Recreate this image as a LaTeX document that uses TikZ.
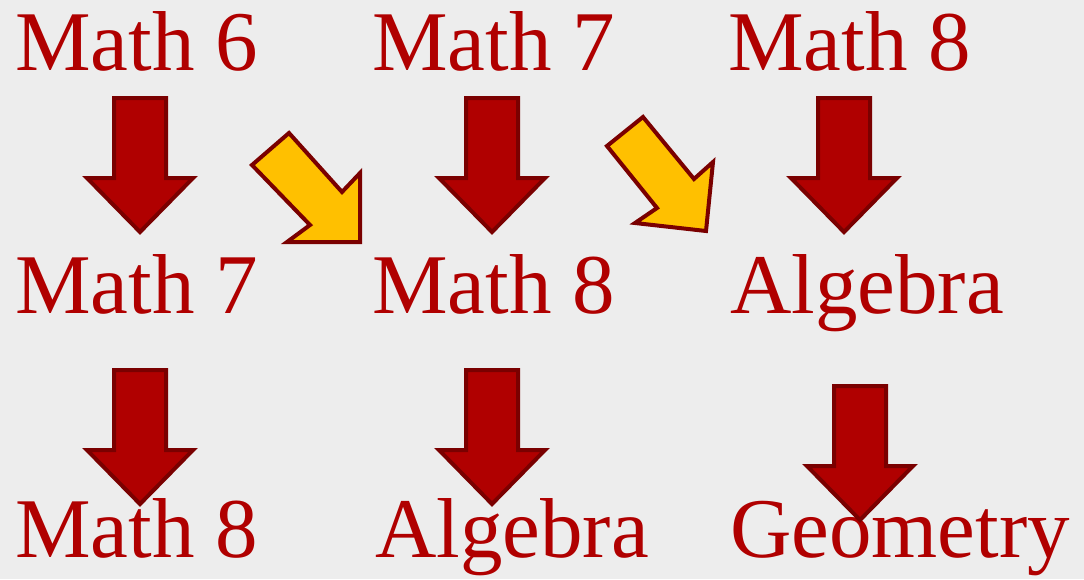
\documentclass[tikz,border=0pt]{standalone}
\usepackage{fontspec}
\setmainfont{Liberation Serif}
\usetikzlibrary{positioning}
\definecolor{courseRed}{HTML}{B00000}
\definecolor{edgeDark}{HTML}{7A0000}
\definecolor{skipGold}{HTML}{FFC000}
\definecolor{paperGray}{HTML}{EDEDED}
\tikzset{
  course/.style={anchor=base west, inner sep=0pt, text=courseRed, font=\fontsize{85}{85}\selectfont},
  redarr/.style={fill=courseRed, draw=edgeDark, line width=4pt, line join=miter},
  goldarr/.style={fill=skipGold, draw=edgeDark, line width=4pt, line join=miter},
  downarr/.pic={
    \draw[redarr] (-26,0) -- (26,0) -- (26,80) -- (53,80) -- (0,134) -- (-53,80) -- (-26,80) -- cycle;
  },
}
\begin{document}
\begin{tikzpicture}[x=1pt, y=-1pt]
  \fill[paperGray] (0,0) rectangle (1084,579);
  \useasboundingbox (0,0) rectangle (1084,579);
  % rows of courses
  \node[course] (m6)   at (15,70)   {Math 6};
  \node[course] (m7a)  at (372,70)  {Math 7};
  \node[course] (m8a)  at (728,70)  {Math 8};
  \node[course] (m7b)  at (15,313)  {Math 7};
  \node[course] (m8b)  at (372,313) {Math 8};
  \node[course] (alga) at (730,313) {Algebra};
  \node[course] (m8c)  at (15,557)  {Math 8};
  \node[course] (algb) at (375,557) {Algebra};
  \node[course] (geo)  at (730,557) {Geometry};
  % down arrows
  \pic at (140,98)  {downarr};
  \pic at (492,98)  {downarr};
  \pic at (844,98)  {downarr};
  \pic at (140,370) {downarr};
  \pic at (492,370) {downarr};
  \pic at (860,386) {downarr};
  % skip arrows
  \draw[goldarr] (252,165) -- (289,133) -- (342,192) -- (360,173) -- (360,242) -- (287,242) -- (310,225) -- cycle;
  \draw[goldarr] (607,146) -- (643,117) -- (694,179) -- (713,162) -- (706,231) -- (635,223) -- (657,208) -- cycle;
\end{tikzpicture}
\end{document}
